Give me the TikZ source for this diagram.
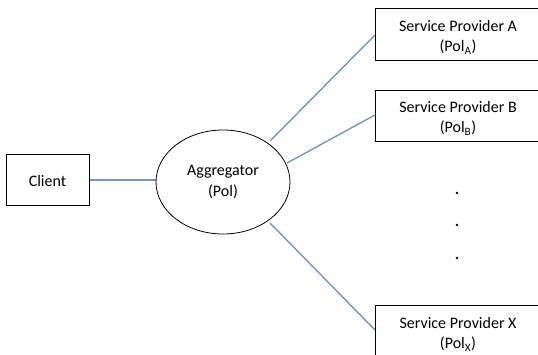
\documentclass[tikz,border=0pt]{standalone}
\usepackage{fontspec}
\setmainfont{Carlito}
\usetikzlibrary{shapes.geometric}
\definecolor{linkblue}{HTML}{6F97CB}
\tikzset{
  box/.style={draw=black, line width=0.8pt, fill=white, inner sep=0pt},
  link/.style={draw=linkblue, line width=1.4pt},
  lbl/.style={font=\fontsize{16}{20.5}\selectfont, align=center, inner sep=0pt},
  dotmark/.style={circle, fill=black, inner sep=0pt, minimum size=2.6pt}
}
\begin{document}
\begin{tikzpicture}[x=1pt, y=-1pt]
  \useasboundingbox (0,0) rectangle (538,354);
  \begin{scope}
    \clip (0,0) rectangle (538,354);
    % links first so the shapes cover their ends
    \coordinate (cR) at (89,180);
    \coordinate (aL) at (156,180);
    \coordinate (a1) at (270,141);
    \coordinate (a2) at (287,163);
    \coordinate (a3) at (270,223);
    \coordinate (pA) at (375,35);
    \coordinate (pB) at (375,115);
    \coordinate (pX) at (375,330);
    \draw[link] (cR) -- (aL);
    \draw[link] (a1) -- (pA);
    \draw[link] (a2) -- (pB);
    \draw[link] (a3) -- (pX);
    % client
    \draw[box] (6,154) rectangle (89,205);
    \node[lbl] (client) at (47.5,181) {Client};
    % aggregator ellipse
    \draw[box] (223,182) ellipse [x radius=67, y radius=52];
    \node[lbl] (agg) at (223,182) {Aggregator\\(Pol)};
    % service providers
    \draw[box] (375,8) rectangle (545,60);
    \node[lbl] (spA) at (458,37) {Service Provider A\\(Pol\textsubscript{A})};
    \draw[box] (375,90) rectangle (545,141);
    \node[lbl] (spB) at (458,118) {Service Provider B\\(Pol\textsubscript{B})};
    \draw[box] (375,305) rectangle (545,370);
    \node[lbl] (spX) at (458,334) {Service Provider X\\(Pol\textsubscript{X})};
    % ellipsis dots
    \node[dotmark] (d1) at (457,193) {};
    \node[dotmark] (d2) at (457,225) {};
    \node[dotmark] (d3) at (457,258) {};
  \end{scope}
\end{tikzpicture}
\end{document}
